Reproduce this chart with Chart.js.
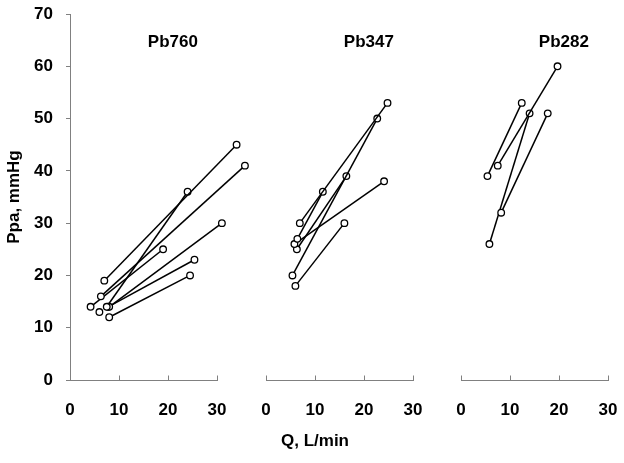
<!DOCTYPE html>
<html>
<head>
<meta charset="utf-8">
<script src="https://cdn.jsdelivr.net/npm/chart.js@4.4.0/dist/chart.umd.min.js"></script>
<style>
  body { margin: 0; background: #fff; }
  #wrap { position: relative; width: 624px; height: 463px; overflow: hidden; }
  #wrap canvas { position: absolute; top: 0; }
  #xtitle { position: absolute; left: 0; top: 431px; width: 630px; text-align: center;
            font: bold 17px Arial, "Liberation Sans", sans-serif; line-height: 20px; color: #000; }
</style>
</head>
<body>
<div id="wrap">
  <canvas id="p760" width="256" height="463" style="left:0px"></canvas>
  <canvas id="p347" width="196" height="463" style="left:240px"></canvas>
  <canvas id="p282" width="188" height="463" style="left:436px"></canvas>
  <div id="xtitle">Q, L/min</div>
</div>
<script>
// Pb760 - each subject: rest point -> exercise point
var restQ760 = [7, 7.5, 6.3, 4.2, 8, 7.8, 8];
var restP760 = [19, 14, 16, 14, 14, 14, 12];
var exQ760 = [34, 24, 35.7, 19, 31, 25.4, 24.5];
var exP760 = [45, 36, 41, 25, 30, 23, 20];
// rest point only, no line
var loneQ760 = [6];
var loneP760 = [13];

// Pb347
var restQ347 = [6, 6.9, 5.4, 6.4, 5.8, 6.3];
var restP347 = [18, 30, 20, 27, 26, 25];
var exQ347 = [16, 24.8, 22.7, 11.6, 24.1, 16.4];
var exP347 = [30, 53, 50, 36, 38, 39];

// Pb282
var restQ282 = [5.4, 7.5, 8.2, 5.8];
var restP282 = [39, 41, 32, 26];
var exQ282 = [12.4, 19.7, 17.7, 14];
var exP282 = [53, 60, 51, 51];

var xTicks = [0, 10, 20, 30];
var yTicks = [0, 10, 20, 30, 40, 50, 60, 70];

const axisColor = '#808080';
const fontFam = 'Arial, "Liberation Sans", sans-serif';

// x axis line 0..30 with short tick marks pointing up, plus the panel label
const panelDeco = {
    id: 'panelDeco',
    afterDraw(chart, args, opts) {
        const xs = chart.scales.x;
        const ys = chart.scales.y;
        const ctx = chart.ctx;
        const yb = Math.round(xs.top) + 0.5;
        ctx.save();
        ctx.strokeStyle = axisColor;
        ctx.lineWidth = 1;
        ctx.beginPath();
        ctx.moveTo(Math.round(xs.getPixelForValue(xTicks[0])), yb);
        ctx.lineTo(Math.round(xs.getPixelForValue(xTicks[xTicks.length - 1])) + 1, yb);
        ctx.stroke();
        xs.ticks.forEach(t => {
            const px = Math.round(xs.getPixelForValue(t.value)) + 0.5;
            ctx.beginPath();
            ctx.moveTo(px, yb);
            ctx.lineTo(px, yb - 5);
            ctx.stroke();
        });
        ctx.fillStyle = '#000';
        ctx.font = 'bold 17px ' + fontFam;
        ctx.textAlign = 'center';
        ctx.textBaseline = 'middle';
        ctx.fillText(opts.text, xs.getPixelForValue(opts.x), ys.getPixelForValue(opts.y));
        ctx.restore();
    }
};

function Subject(points) {
    return {
        data: points,
        borderColor: '#000',
        borderWidth: 1.5,
        pointRadius: 3.3,
        pointBorderWidth: 1.3,
        pointBackgroundColor: '#fff',
        pointBorderColor: '#000',
        clip: false
    };
}

function MakePanel(id, name, restQ, restP, exQ, exP, loneQ, loneP, first, xMax, padL, padR) {
    const datasets = [];
    for (let i = 0; i < restQ.length; i++) {
        datasets.push(Subject([{x: restQ[i], y: restP[i]}, {x: exQ[i], y: exP[i]}]));
    }
    for (let i = 0; i < loneQ.length; i++) {
        datasets.push(Subject([{x: loneQ[i], y: loneP[i]}]));
    }
    return new Chart(document.getElementById(id), {
        type: 'line',
        data: {datasets: datasets},
        options: {
            responsive: false,
            animation: false,
            layout: {padding: {left: padL, right: padR, top: 14, bottom: 0}},
            plugins: {
                legend: {display: false},
                tooltip: {enabled: false},
                panelDeco: {text: name, x: 21, y: 64.6}
            },
            scales: {
                x: {
                    type: 'linear',
                    min: 0,
                    max: xMax,
                    afterBuildTicks: s => { s.ticks = xTicks.map(v => ({value: v})); },
                    afterFit: s => { s.height = 83; s.paddingLeft = 0; s.paddingRight = 0; },
                    grid: {display: false, drawTicks: false},
                    border: {display: false},
                    ticks: {color: '#000', font: {family: fontFam, size: 17, weight: 'bold'}, padding: 20, maxRotation: 0}
                },
                y: {
                    display: first,
                    min: 0,
                    max: 70,
                    afterBuildTicks: s => { s.ticks = yTicks.map(v => ({value: v})); },
                    afterFit: s => { if (first) s.width = 70; s.paddingTop = 0; s.paddingBottom = 0; },
                    grid: {display: true, drawOnChartArea: false, drawTicks: true, tickLength: 4, color: axisColor},
                    border: {display: true, color: axisColor, width: 1},
                    ticks: {color: '#000', font: {family: fontFam, size: 17, weight: 'bold'}, padding: 13},
                    title: {display: true, text: 'Ppa, mmHg', color: '#000', font: {family: fontFam, size: 17, weight: 'bold'}, padding: {top: 4, bottom: 0}}
                }
            }
        },
        plugins: [panelDeco]
    });
}

// panel 1 runs its scale to 36 so the points beyond 30 are still drawn
MakePanel('p760', 'Pb760', restQ760, restP760, exQ760, exP760, loneQ760, loneP760, true, 36, 0, 9.6);
MakePanel('p347', 'Pb347', restQ347, restP347, exQ347, exP347, [], [], false, 30, 26, 23);
MakePanel('p282', 'Pb282', restQ282, restP282, exQ282, exP282, [], [], false, 30, 25, 16);
</script>
</body>
</html>
